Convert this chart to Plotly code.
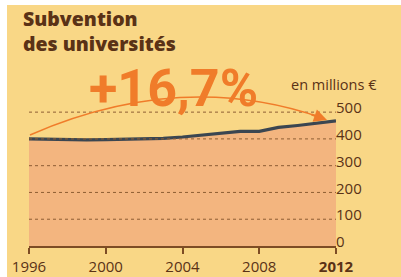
import plotly.graph_objects as go

# ---- data ----
years = list(range(1996, 2013))
subvention = [400, 398, 396, 396, 397, 398, 399, 402, 407, 415, 423, 428, 428, 443, 450, 458, 467]
x_tickvals = [1996, 2000, 2004, 2008, 2012]
x_ticktext = ["1996", "2000", "2004", "2008", "<b>2012</b>"]
y_tickvals = [0, 100, 200, 300, 400, 500]
title_lines = ["Subvention", "des universités"]
unit_label = "en millions €"
growth_label = "+16,7%"

# ---- style ----
W, H = 401, 277
ML, MR, MT, MB = 29, 65, 80, 31
BG = "#f9d786"
FILL = "#f3b57f"
LINE = "#3b4651"
ORANGE = "#f07c2a"
BROWN = "#5a3216"
AXIS = "#7d4c24"
GRID = "#8e5e34"
YMAX = 620

pw, ph = W - ML - MR, H - MT - MB


def px2paper(px, py):
    return (px - ML) / pw, (H - MB - py) / ph


def px2data(px, py):
    return 1996 + (px - ML) / pw * 16, (H - MB - py) / ph * YMAX


fig = go.Figure()
fig.add_trace(go.Scatter(
    x=years, y=subvention, mode="lines",
    line=dict(color=LINE, width=3.2),
    fill="tozeroy", fillcolor=FILL, hoverinfo="skip",
))

# dotted gridlines drawn above the fill
for v in y_tickvals[1:]:
    fig.add_shape(type="line", xref="paper", yref="y", x0=0, x1=1, y0=v, y1=v,
                  line=dict(color=GRID, width=1, dash="dot"), layer="above")

# decorative growth arc
p0 = px2data(30, 135)
c = px2data(182, 69)
p2 = px2data(322, 118)
fig.add_shape(type="path", xref="x", yref="y",
              path=f"M {p0[0]},{p0[1]} Q {c[0]},{c[1]} {p2[0]},{p2[1]}",
              line=dict(color=ORANGE, width=1.5))
tail = px2data(310, 114)
tip = px2data(327, 120)
fig.add_annotation(x=tip[0], y=tip[1], ax=tail[0], ay=tail[1], axref="x", ayref="y",
                   xref="x", yref="y", text="", showarrow=True,
                   arrowhead=2, arrowsize=1.3, arrowwidth=2, arrowcolor=ORANGE)

# white border strips (scan edge)
x0, _ = px2paper(0, 0)
x7, _ = px2paper(7, 0)
xr, _ = px2paper(W, 0)
_, ytop = px2paper(0, 0)
_, y5 = px2paper(0, 5)
_, ybot = px2paper(0, H)
fig.add_shape(type="rect", xref="paper", yref="paper", x0=x0, x1=x7, y0=ybot, y1=ytop,
              fillcolor="white", line_width=0, layer="above")
fig.add_shape(type="rect", xref="paper", yref="paper", x0=x0, x1=xr, y0=y5, y1=ytop,
              fillcolor="white", line_width=0, layer="above")

# title
tx, ty = px2paper(21, 31)
fig.add_annotation(x=tx, y=ty, xref="paper", yref="paper", text="<br>".join(title_lines),
                   showarrow=False, xanchor="left", yanchor="middle", align="left",
                   font=dict(family="Open Sans", size=19.5, color=BROWN, weight=800))

# growth label
gx, gy = px2paper(173, 88)
fig.add_annotation(x=gx, y=gy, xref="paper", yref="paper", text=growth_label, showarrow=False,
                   xanchor="center", yanchor="middle",
                   font=dict(family="Roboto", size=52, color=ORANGE, weight="bold"))

# unit label
ux, uy = px2paper(289, 84)
fig.add_annotation(x=ux, y=uy, xref="paper", yref="paper", text=unit_label, showarrow=False,
                   xanchor="left", yanchor="middle",
                   font=dict(family="Open Sans", size=14.5, color=BROWN))

fig.update_layout(
    width=W, height=H,
    margin=dict(l=ML, r=MR, t=MT, b=MB, pad=0, autoexpand=False),
    paper_bgcolor=BG, plot_bgcolor="rgba(0,0,0,0)",
    showlegend=False,
    font=dict(family="Open Sans", color=BROWN, size=15),
    xaxis=dict(range=[1996, 2012], tickvals=x_tickvals, ticktext=x_ticktext, automargin=False,
               showgrid=False, zeroline=False, showline=True, linecolor=AXIS, linewidth=1.5,
               ticks="outside", ticklen=6, tickwidth=1.5, tickcolor=AXIS,
               tickfont=dict(size=15, color=BROWN)),
    yaxis=dict(range=[0, YMAX], tickvals=y_tickvals, side="right", automargin=False,
               showgrid=False, zeroline=False, showline=False, ticks="",
               ticklabelstandoff=-1, ticklabelshift=-4,
               tickfont=dict(size=15, color=BROWN)),
)

fig.write_html("out.html", config={"displayModeBar": False},
               post_script="document.body.style.margin='0';document.body.style.padding='0';")
